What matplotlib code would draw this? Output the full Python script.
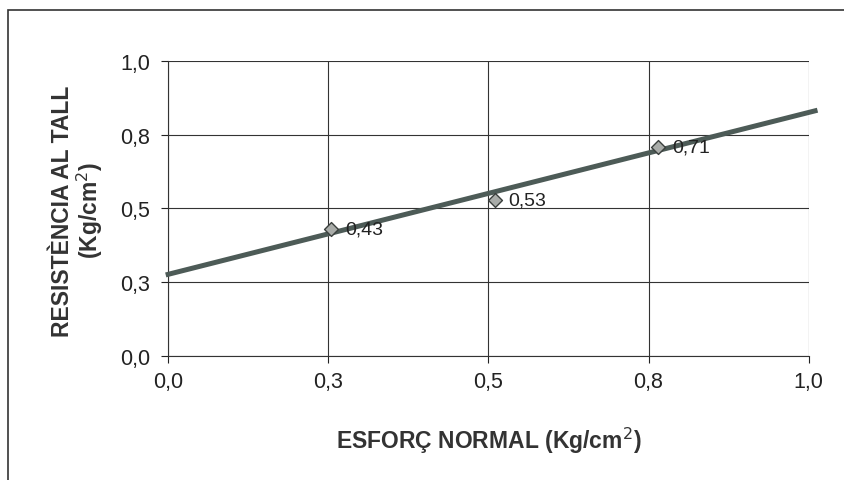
import numpy as np
import matplotlib
matplotlib.use("Agg")
from matplotlib import pyplot as plt
from matplotlib.patches import Rectangle

plt.rcParams['font.family'] = ['Liberation Sans', 'DejaVu Sans']

# data
esforc_normal = [0.255, 0.51, 0.765]
resistencia = [0.43, 0.53, 0.71]
point_labels = ['0,43', '0,53', '0,71']
tick_values = [0.0, 0.25, 0.5, 0.75, 1.0]
tick_labels = ['0,0', '0,3', '0,5', '0,8', '1,0']

# linear trendline through the points
slope, intercept = np.polyfit(esforc_normal, resistencia, 1)
line_x = np.array([0.0, 1.01])
line_y = slope * line_x + intercept

fig = plt.figure(figsize=(8.45, 4.81), dpi=100)
ax = fig.add_axes([0.199, 0.258, 0.758, 0.613])

# outer frame of the chart area
fig.patches.append(Rectangle((8 / 845, -0.1), 1.2, 1 - 11 / 481 + 0.1,
                             transform=fig.transFigure, fill=False,
                             edgecolor='#333333', linewidth=1.2))

ax.plot(line_x, line_y, color='#4d5b57', linewidth=3.6, clip_on=False, zorder=3)
ax.scatter(esforc_normal, resistencia, marker='D', s=50, facecolor='#a9aca9',
           edgecolor='#3a3f3d', linewidth=1.0, zorder=4)
for x, y, lab in zip(esforc_normal, resistencia, point_labels):
    ax.annotate(lab, (x, y), xytext=(10, 0), textcoords='offset points',
                va='center', ha='left', fontsize=14, color='#222222', zorder=5)

ax.set_xlim(0, 1)
ax.set_ylim(0, 1)
ax.set_xticks(tick_values)
ax.set_xticklabels(tick_labels)
ax.set_yticks(tick_values)
ax.set_yticklabels(tick_labels)
ax.tick_params(axis='both', labelsize=15.5, colors='#222222', length=5, width=0.8,
               direction='out')
ax.tick_params(axis='y', pad=8)
ax.tick_params(axis='x', pad=6)
ax.grid(True, color='#333333', linewidth=0.8)
ax.set_axisbelow(True)
for side in ['top', 'right']:
    ax.spines[side].set_visible(False)
for side in ['left', 'bottom']:
    ax.spines[side].set_color('#333333')
    ax.spines[side].set_linewidth(0.8)

ax.set_xlabel('ESFORÇ NORMAL (Kg/cm$^2$)', fontsize=16.5, fontweight='bold',
              color='#333333')
ax.xaxis.set_label_coords(0.5, -0.235)
ax.set_ylabel('RESISTÈNCIA AL TALL\n(Kg/cm$^2$)', fontsize=16.5, fontweight='bold',
              color='#333333', linespacing=1.05)
ax.yaxis.set_label_coords(-0.098, 0.495)

fig.savefig('out.png', dpi=100)
